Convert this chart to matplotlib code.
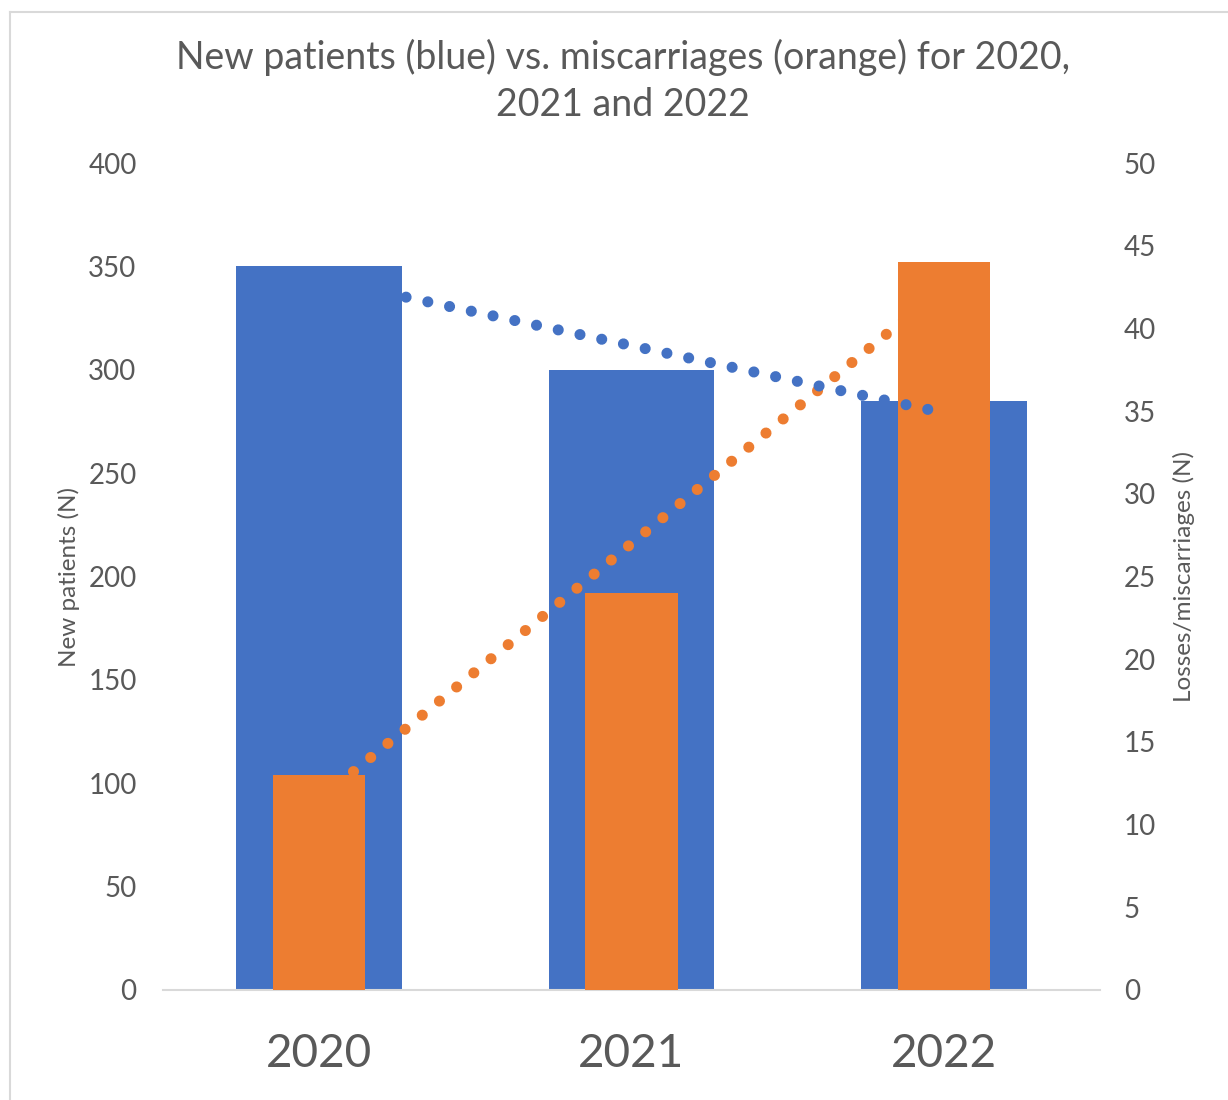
import numpy as np
import matplotlib
matplotlib.use("Agg")
import matplotlib.pyplot as plt
from matplotlib.lines import Line2D

plt.rcParams["font.family"] = ["Lato", "DejaVu Sans"]

# ── data ─────────────────────────────────────────────────────────────────────
years = ["2020", "2021", "2022"]
new_patients = [350, 300, 285]
miscarriages = [13, 24, 44]

C_BLUE = "#4472C4"
C_ORANGE = "#ED7D31"
C_TEXT = "#595959"

fig = plt.figure(figsize=(12.28, 11), dpi=100)
ax = fig.add_axes([0.1327, 0.10, 0.7631, 0.7518])
ax2 = ax.twinx()

x = np.arange(len(years))
ax.bar(x, new_patients, width=0.53, color=C_BLUE, zorder=2)
ax2.bar(x, miscarriages, width=0.295, color=C_ORANGE, zorder=2)

# linear trendlines
xt = np.linspace(0, 1.99, 50)
pb = np.polyfit(x, new_patients, 1)
po = np.polyfit(x, miscarriages, 1)
dots = dict(lw=8, ls=(0, (0.001, 2.0)), dash_capstyle="round", zorder=5)
ax2.plot(xt, np.polyval(po, xt), color=C_ORANGE, **dots)
ax2.plot(xt, np.polyval(pb, xt) / 8.0, color=C_BLUE, **dots)

ax.set_xlim(-0.5, 2.5)
ax.set_ylim(0, 400)
ax2.set_ylim(0, 50)
ax.set_yticks(range(0, 401, 50))
ax2.set_yticks(range(0, 51, 5))
ax.set_xticks(x)

for a in (ax, ax2):
    for s in a.spines.values():
        s.set_visible(False)
    a.tick_params(length=0, labelsize=20, labelcolor=C_TEXT)
ax.tick_params(axis="y", pad=19)
ax2.tick_params(axis="y", pad=17)
ax.set_xticklabels(years, fontsize=33, color=C_TEXT)
ax.tick_params(axis="x", pad=31)
ax.spines["bottom"].set_visible(True)
ax.spines["bottom"].set_color("#D9D9D9")
ax.spines["bottom"].set_linewidth(1.5)

ax.set_ylabel("New patients (N)", fontsize=17.5, color=C_TEXT, labelpad=6)
ax2.set_ylabel("Losses/miscarriages (N)", fontsize=17.5, color=C_TEXT, labelpad=12)

fig.text(0.507, 0.965, "New patients (blue) vs. miscarriages (orange) for 2020,\n2021 and 2022",
         ha="center", va="top", fontsize=27, color=C_TEXT, linespacing=1.38)

# chart area border (top and left edges)
fig.add_artist(Line2D([0.008, 1.0], [0.989, 0.989], color="#D9D9D9", lw=1.5))
fig.add_artist(Line2D([0.008, 0.008], [0.0, 0.989], color="#D9D9D9", lw=1.5))

fig.savefig("out.png", dpi=100)
